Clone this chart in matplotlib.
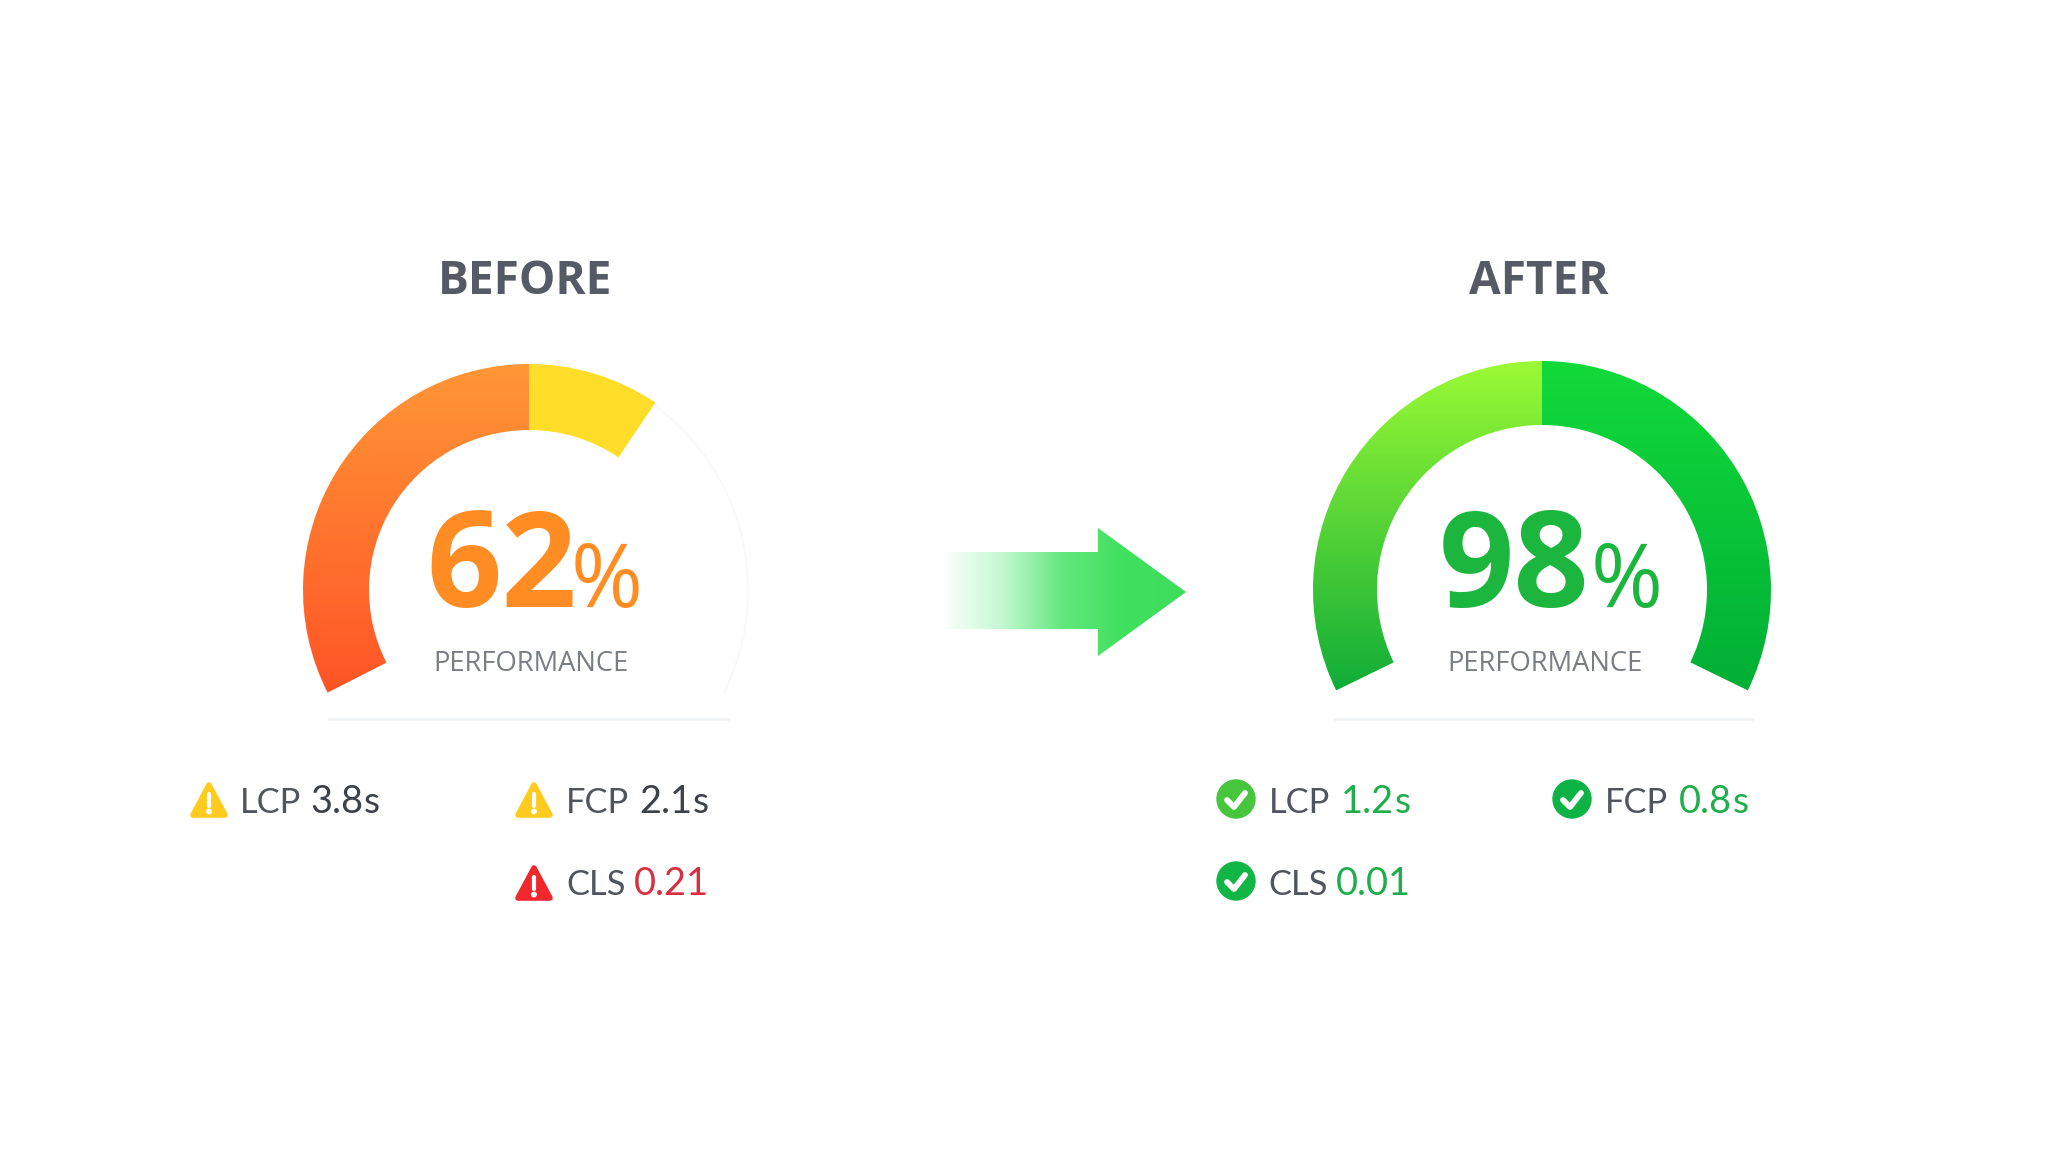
import numpy as np
import matplotlib
matplotlib.use("Agg")
import matplotlib.pyplot as plt
from matplotlib.patches import Wedge, Circle, Polygon, Arc
from matplotlib.colors import LinearSegmentedColormap

plt.rcParams['font.family'] = ['Open Sans', 'Noto Sans', 'DejaVu Sans']

# gauge values
before_score = "62"
after_score = "98"
before_angles = [207, 90, 56]
after_angles = [206, 90, -26]
before_colors = [("#ff5226", "#ff9736"), ("#ffdb28", "#ffdf2a")]
after_colors = [("#0aa938", "#9cfb35"), ("#00ad35", "#12da3a")]

# metrics
before_metrics = ["LCP", "FCP", "CLS"]
before_values = ["3.8", "2.1", "0.21"]
before_units = ["s", "s", ""]
after_metrics = ["LCP", "FCP", "CLS"]
after_values = ["1.2", "0.8", "0.01"]
after_units = ["s", "s", ""]

GREY = "#50555d"
DARK = "#3d4249"
GREEN = "#1fae4c"
RED = "#d8303f"
NARROW = ['Lato', 'Noto Sans', 'DejaVu Sans']


def px(size):
    return size * 72 / 100


fig = plt.figure(figsize=(20.48, 11.52), dpi=100, facecolor="white")
ax = fig.add_axes([0, 0, 1, 1])
ax.set_xlim(0, 2048)
ax.set_ylim(1152, 0)
ax.axis("off")


def gradient_fill(patch, extent, c1, c2):
    cmap = LinearSegmentedColormap.from_list("g", [c1, c2])
    grad = np.linspace(0, 1, 256).reshape(-1, 1)
    # extent is left,right,bottom,top in pixels, c1 at the first row
    im = ax.imshow(grad, extent=extent, cmap=cmap, aspect="auto", origin="lower", zorder=2)
    im.set_clip_path(patch)


def gauge(cx, cy, R, r, angles, colors):
    # y axis is flipped so angles get negated
    for i in range(len(colors)):
        a1, a2 = angles[i], angles[i + 1]
        w = Wedge((cx, cy), R, -a1, -a2, width=R - r, facecolor="none", edgecolor="none")
        ax.add_patch(w)
        gradient_fill(w, (cx - R - 2, cx + R + 2, cy + R * 0.5, cy - R - 2), colors[i][0], colors[i][1])


# faint card behind the gauges
ax.add_patch(Arc((529, 590), 438, 450, theta1=-56, theta2=28, color="#f8f9fb", lw=1.5, zorder=1))
ax.plot([329, 728], [719, 719], color="#f0f3f7", lw=2, zorder=1)
ax.plot([1335, 1752], [719, 719], color="#f0f3f7", lw=2, zorder=1)

gauge(529, 590, 226, 160, before_angles, before_colors)
gauge(1542, 590, 229, 165, after_angles, after_colors)

# headings
ax.text(525, 294, "BEFORE", fontsize=px(46), fontweight="bold", color="#565a64", ha="center", va="baseline")
ax.text(1539, 294, "AFTER", fontsize=px(46), fontweight="bold", color="#565a64", ha="center", va="baseline")

# scores
ax.text(426, 607, before_score, fontsize=px(132), fontweight="bold", color="#ff8d24", ha="left", va="baseline")
ax.text(571, 607, "%", fontsize=px(87), color="#ff8d24", ha="left", va="baseline")
ax.text(1439, 607, after_score, fontsize=px(132), fontweight="bold", color="#1cb63f", ha="left", va="baseline")
ax.text(1591, 607, "%", fontsize=px(87), color="#1cb63f", ha="left", va="baseline")

ax.text(531, 671, "PERFORMANCE", fontsize=px(27.4), color="#797d84", ha="center", va="baseline")
ax.text(1545, 671, "PERFORMANCE", fontsize=px(27.4), color="#797d84", ha="center", va="baseline")

# arrow
arrow = Polygon([(935, 552), (1098, 552), (1098, 528), (1186, 592), (1098, 656), (1098, 629), (935, 629)],
                facecolor="none", edgecolor="none")
ax.add_patch(arrow)
cmap = LinearSegmentedColormap.from_list("a", ["#ffffff", "#c5f9d2", "#62e77f", "#40e05e", "#3edd5c"])
im = ax.imshow(np.linspace(0, 1, 256).reshape(1, -1), extent=(940, 1186, 656, 528), cmap=cmap, aspect="auto", zorder=2)
im.set_clip_path(arrow)


def warn_icon(x, y, color):
    # x,y = centre of base
    ax.add_patch(Polygon([(x - 16, y), (x + 16, y), (x, y - 30)], closed=True, facecolor=color, edgecolor=color,
                         lw=4, joinstyle="round", zorder=3))
    ax.plot([x, x], [y - 21, y - 9], color="white", lw=3, solid_capstyle="round", zorder=4)
    ax.add_patch(Circle((x, y - 3.5), 2.2, color="white", zorder=4))


def check_icon(x, y, color):
    ax.add_patch(Circle((x, y), 19, color=color, zorder=3))
    ax.plot([x - 9, x - 2, x + 9], [y + 1, y + 8, y - 6], color="white", lw=4.2, solid_capstyle="round",
            solid_joinstyle="round", zorder=4)


def metric(x_label, x_value, y, label, value, unit, color, size=37):
    ax.text(x_label, y, label, fontsize=px(size - 2.5), family=NARROW, color=GREY, ha="left", va="baseline")
    t = ax.text(x_value, y, value, fontsize=px(size + 1), family=NARROW, color=color, ha="left", va="baseline")
    if unit:
        fig.canvas.draw()
        bb = t.get_window_extent()
        ax.text(bb.x1 + 1, y, unit, fontsize=px(size), family=NARROW, color=color, ha="left", va="baseline")


warn_icon(209, 815, "#ffcb1f")
warn_icon(534, 815, "#ffcb1f")
warn_icon(534, 898, "#f0272c")
metric(240, 310, 813, before_metrics[0], before_values[0], before_units[0], DARK)
metric(566, 639, 813, before_metrics[1], before_values[1], before_units[1], DARK)
metric(566, 634, 895, before_metrics[2], before_values[2], before_units[2], RED)

check_icon(1236, 799, "#45c63c")
check_icon(1572, 799, "#0db445")
check_icon(1236, 881, "#12b644")
metric(1269, 1341, 813, after_metrics[0], after_values[0], after_units[0], GREEN)
metric(1605, 1679, 813, after_metrics[1], after_values[1], after_units[1], GREEN)
metric(1268, 1336, 895, after_metrics[2], after_values[2], after_units[2], GREEN)

ax.set_xlim(0, 2048)
ax.set_ylim(1152, 0)
fig.savefig("out.png", dpi=100, facecolor="white")
